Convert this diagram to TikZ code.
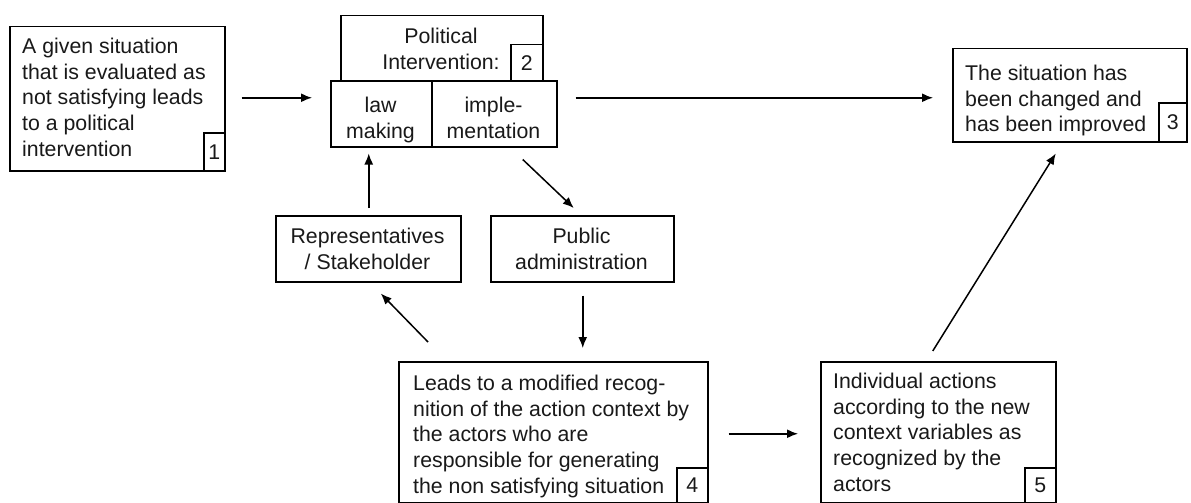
\documentclass[tikz,border=0pt]{standalone}
\usepackage{fontspec}
\setmainfont{Liberation Sans}
\usetikzlibrary{arrows.meta,calc}
\tikzset{
  box/.style={draw=black, line width=1.5pt, rectangle, inner sep=0pt, anchor=north west},
  numbox/.style={draw=black, line width=1.5pt, rectangle, inner sep=0pt, anchor=south east,
    font=\fontsize{21.3}{25.6}\selectfont, text=black!90},
  txt/.style={inner sep=0pt, align=left, anchor=north west,
    font=\fontsize{21.3}{25.6}\selectfont, text=black!90},
  ctxt/.style={inner sep=0pt, align=center, anchor=north,
    font=\fontsize{21.3}{25.6}\selectfont, text=black!90},
  arr/.style={draw=black, line width=1.5pt, -{Latex[length=11pt,width=9pt]}}
}
\begin{document}
\begin{tikzpicture}[x=1pt,y=-1pt]
\useasboundingbox[fill=white] (0,0) rectangle (1191,503);

% boxes
\node[box, minimum width=215pt, minimum height=144pt] (b1) at (9,26) {};
\node[box, minimum width=202pt, minimum height=65pt] (pi) at (340,15) {};
\node[box, minimum width=101pt, minimum height=66pt] (lm) at (330,80) {};
\node[box, minimum width=125pt, minimum height=66pt] (im) at (431,80) {};
\node[box, minimum width=234pt, minimum height=93pt] (b3) at (952,48) {};
\node[box, minimum width=185pt, minimum height=66pt] (rep) at (275,215) {};
\node[box, minimum width=183pt, minimum height=66pt] (pa) at (490,215) {};
\node[box, minimum width=309pt, minimum height=141pt] (b4) at (398,361) {};
\node[box, minimum width=235pt, minimum height=141pt] (b5) at (820,361) {};

% numbered corner tags
\node[numbox, minimum width=21pt, minimum height=38pt] (n1) at (b1.south east) {1};
\node[numbox, minimum width=32pt, minimum height=36pt] (n2) at (pi.south east) {2};
\node[numbox, minimum width=28pt, minimum height=39pt] (n3) at (b3.south east) {3};
\node[numbox, minimum width=31pt, minimum height=35pt] (n4) at (b4.south east) {4};
\node[numbox, minimum width=31pt, minimum height=35pt] (n5) at (b5.south east) {5};

% texts
\node[txt] (t1) at (22,38) {A given situation\\that is evaluated as\\not satisfying leads\\to a political\\intervention};
\node[ctxt] (t2) at (441,28) {Political\\Intervention:\hspace*{0pt}};
\node[ctxt] (tlm) at (380.5,97) {law\\making};
\node[ctxt] (tim) at (493.5,97) {imple-\\mentation};
\node[txt] (t3) at (965,65) {The situation has\\been changed and\\has been improved};
\node[ctxt] (trep) at (367.5,228) {Representatives\\/ Stakeholder};
\node[ctxt] (tpa) at (581.5,228) {Public\\administration};
\node[txt] (t4) at (413,375) {Leads to a modified recog-\\nition of the action context by\\the actors who are\\responsible for generating\\the non satisfying situation};
\node[txt] (t5) at (833,373) {Individual actions\\according to the new\\context variables as\\recognized by the\\actors};

% connectors
\draw[arr] ($(b1.east)+(16,-1)$) -- ($(b1.east -| lm.west)+(-18,-1)$);
\draw[arr] ($(im.east |- b1.east)+(18,-1)$) -- ($(b3.west |- b1.east)+(-19,-1)$);
\draw[arr] ($(rep.north)+(0.5,-7)$) -- ($(rep.north |- lm.south)+(0.5,6)$);
\draw[arr] ($(im.south)+(28.5,12)$) -- ($(pa.north)+(-8.5,-7)$);
\draw[arr] ($(b4.north west)+(30,-19)$) -- ($(rep.south)+(12.5,11)$);
\draw[arr] ($(pa.south)+(0.5,13)$) -- ($(pa.south |- b4.north)+(0.5,-13)$);
\draw[arr] ($(b4.east)+(20,1.5)$) -- ($(b5.west)+(-22,1.5)$);
\draw[arr] ($(b5.north)+(-5.5,-10)$) -- ($(b3.south)+(-14,11)$);
\end{tikzpicture}
\end{document}
